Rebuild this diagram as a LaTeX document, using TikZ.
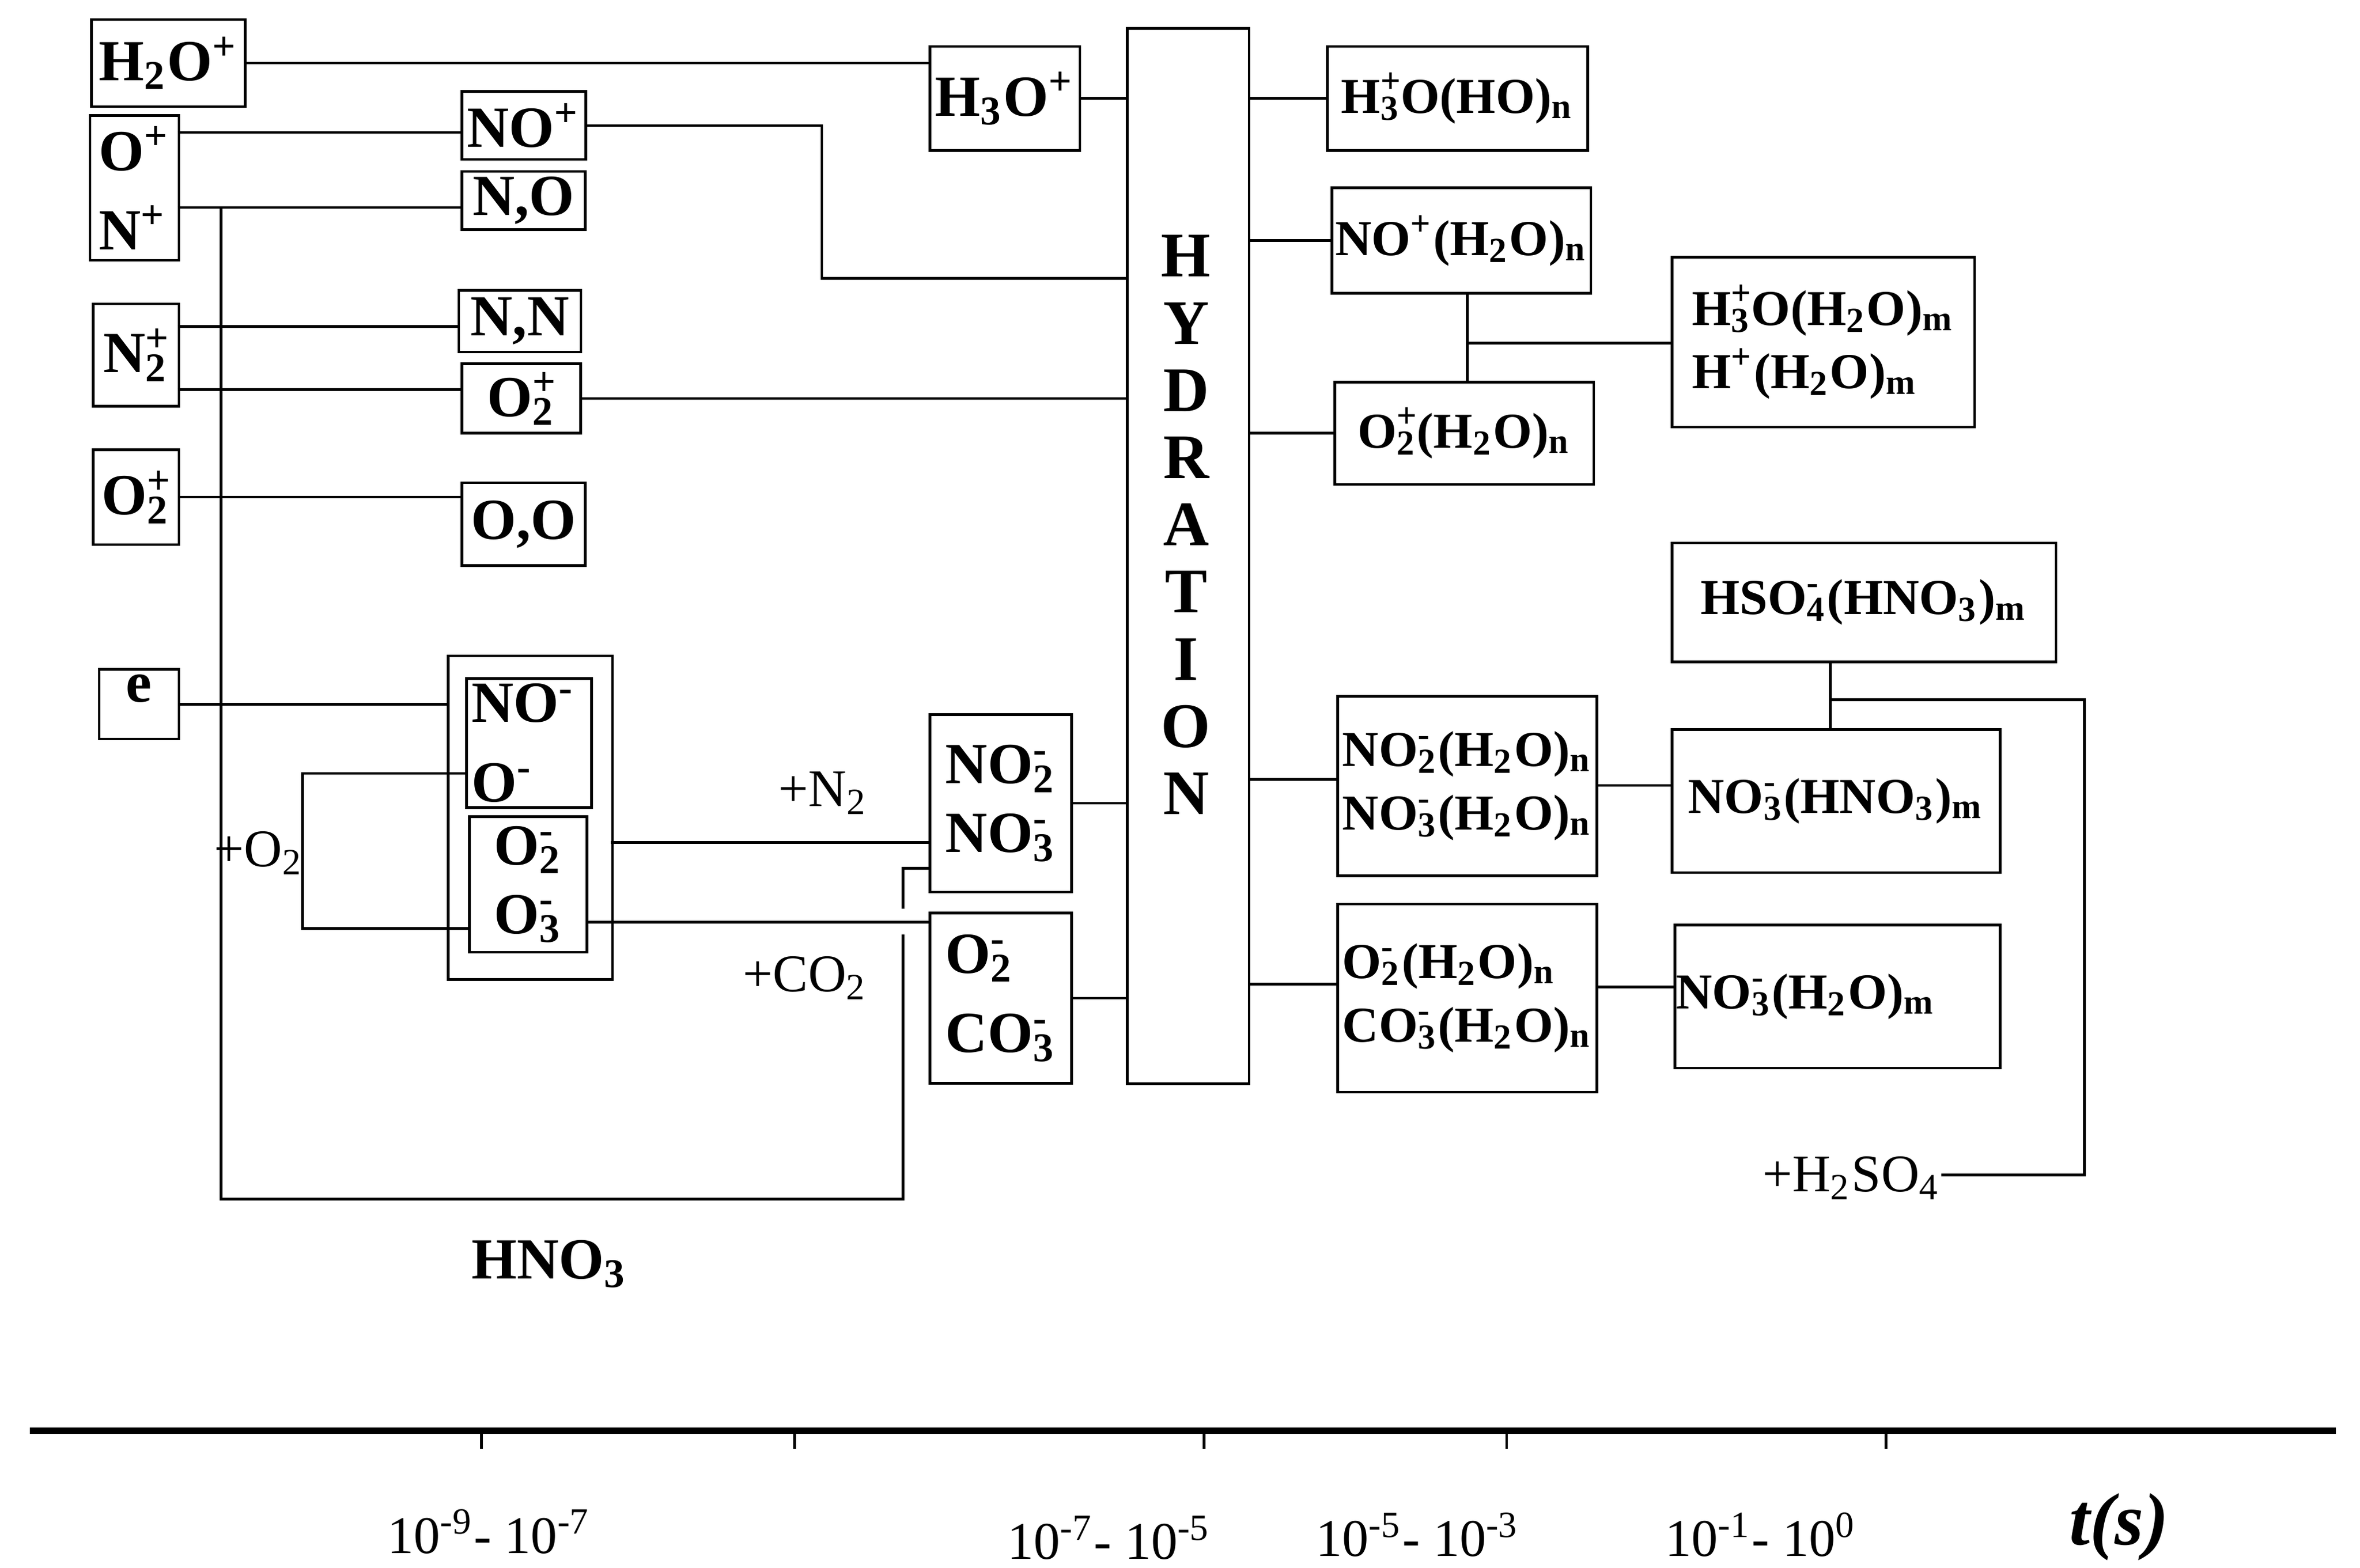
\documentclass[tikz,border=0pt]{standalone}
\usepackage{fontspec}
\setmainfont{Liberation Serif}
\newcommand{\dn}[1]{\textsubscript{#1}}
\newcommand{\up}[1]{\textsuperscript{#1}}
\newcommand{\ud}[2]{\rlap{\textsuperscript{#1}}\textsubscript{#2}}

\begin{document}
\begin{tikzpicture}[
  x=0.01cm, y=-0.01cm,
  box/.style={draw, rectangle, line width=0.5pt, anchor=north west, inner sep=1pt,
    align=left, font=\fontsize{11}{13}\selectfont\bfseries},
  wide/.style={box, inner sep=0pt, font=\fontsize{9.5}{12}\selectfont\bfseries},
  lbl/.style={inner sep=0pt, font=\fontsize{10}{12}\selectfont},
  link/.style={line width=0.5pt},
]
\useasboundingbox (0,0) rectangle (1568,1042);

% left column
\draw (60,12) node (h2o) [box, minimum width=1.02cm, minimum height=0.58cm] {H\dn{2}O\up{+}};
\draw (59,76) node (onp) [box, minimum width=0.59cm, minimum height=0.96cm] {O\up{+}\\[2pt]N\up{+}};
\draw (61,201) node (n2p) [box, minimum width=0.57cm, minimum height=0.68cm] {N\ud{+}{2}};
\draw (61,298) node (o2p) [box, minimum width=0.57cm, minimum height=0.63cm] {O\ud{+}{2}};
\draw (65,444) node (el) [box, minimum width=0.53cm, minimum height=0.42cm] {e\rule[-6pt]{0pt}{1pt}};

% second column
\draw (306,60) node (nop) [box, minimum width=0.81cm, minimum height=0.45cm] {NO\up{+}};
\draw (306,113) node (no) [box, minimum width=0.82cm, minimum height=0.37cm] {N,O};
\draw (304,192) node (nn) [box, minimum width=0.81cm, minimum height=0.41cm] {N,N};
\draw (306,241) node (o2pb) [box, minimum width=0.79cm, minimum height=0.46cm] {O\ud{+}{2}};
\draw (306,320) node (oo) [box, minimum width=0.82cm, minimum height=0.55cm] {O,O};
\draw (297,435) node (grp) [box, minimum width=1.09cm, minimum height=2.15cm] {};
\draw (309,450) node (nom) [box, minimum width=0.80cm, minimum height=0.81cm] {NO\up{-}\\[2pt]O\up{-}\hspace*{10pt}};
\draw (311,542) node (o2m) [box, minimum width=0.78cm, minimum height=0.90cm] {O\ud{-}{2}\\O\ud{-}{3}};

% third column
\draw (617,30) node (h3o) [box, minimum width=0.92cm, minimum height=0.69cm] {H\dn{3}O\up{+}};
\draw (617,474) node (no23) [box, minimum width=0.94cm, minimum height=1.18cm] {NO\ud{-}{2}\\NO\ud{-}{3}};
\draw (617,606) node (o2co3) [box, minimum width=0.94cm, minimum height=1.13cm] {O\ud{-}{2}\\[2pt]CO\ud{-}{3}};
\draw (748,18) node (hyd) [box, minimum width=0.81cm, minimum height=7.01cm] {};
\node [box, anchor=north, draw=none, align=center, font=\fontsize{12}{12.7pt}\selectfont\bfseries] at (788,152) {H\\Y\\D\\R\\A\\T\\I\\O\\N};

% hydrated ions
\draw (881,30) node (h3on) [wide, minimum width=1.73cm, minimum height=0.69cm] {H\ud{+}{3}O(HO)\dn{n}};
\draw (884,124) node (nopn) [wide, minimum width=1.72cm, minimum height=0.70cm] {NO\up{+}(H\dn{2}O)\dn{n}};
\draw (886,253) node (o2pn) [wide, minimum width=1.72cm, minimum height=0.68cm] {O\ud{+}{2}(H\dn{2}O)\dn{n}};
\draw (888,462) node (no23n) [wide, minimum width=1.72cm, minimum height=1.19cm] {NO\ud{-}{2}(H\dn{2}O)\dn{n}\\NO\ud{-}{3}(H\dn{2}O)\dn{n}};
\draw (888,600) node (o2co3n) [wide, minimum width=1.72cm, minimum height=1.25cm] {O\ud{-}{2}(H\dn{2}O)\dn{n}\\CO\ud{-}{3}(H\dn{2}O)\dn{n}};

% cluster ions
\draw (1110,170) node (h3om) [wide, minimum width=2.01cm, minimum height=1.13cm] {H\ud{+}{3}O(H\dn{2}O)\dn{m}\\H\up{+}(H\dn{2}O)\dn{m}};
\draw (1110,360) node (hso4) [wide, minimum width=2.55cm, minimum height=0.79cm] {HSO\ud{-}{4}(HNO\dn{3})\dn{m}};
\draw (1110,484) node (no3h) [wide, minimum width=2.18cm, minimum height=0.95cm] {NO\ud{-}{3}(HNO\dn{3})\dn{m}};
\draw (1112,614) node (no3w) [wide, minimum width=2.16cm, minimum height=0.95cm] {NO\ud{-}{3}(H\dn{2}O)\dn{m}\hspace*{12pt}};

% free labels
\node (lo2) [lbl] at (172,567) {+O\dn{2}};
\node (ln2) [lbl] at (547,527) {+N\dn{2}};
\node (lco2) [lbl] at (535,650) {+CO\dn{2}};
\node (lh2so4) [lbl, anchor=east] at (1290,783) {+H\dn{2}SO\dn{4}};
\node (lhno3) [lbl, font=\fontsize{11}{13}\selectfont\bfseries] at (365,840) {HNO\dn{3}};

% connectors, left part
\draw [link] (h2o.east) -- (h2o.east -| h3o.west);
\draw [link] (h3o.east) -- (h3o.east -| hyd.west);
\draw [link] (118,88) -- (306,88);
\draw [link] (nop.east) -- (nop.east -| 546,0) -- (546,185) -- (hyd.west |- 0,185);
\draw [link] (118,138) -- (no.west |- 0,138);
\draw [link] (118,217) -- (nn.west |- 0,217);
\draw [link] (118,259) -- (o2pb.west |- 0,259);
\draw [link] (o2pb.east) -- (o2pb.east -| hyd.west);
\draw [link] (o2p.east) -- (o2p.east -| oo.west);
\draw [link] (el.east) -- (el.east -| grp.west);
\draw [link] (309,514) -- (201,514) -- (201,617) -- (311,617);
\draw [link] (406,560) -- (no23.west |- 0,560);
\draw [link] (389,613) -- (o2co3.west |- 0,613);
\draw [link] (147,138) -- (147,797) -- (600,797) -- (600,621);
\draw [link] (600,604) -- (600,577) -- (no23.west |- 0,577);
\draw [link] (no23.east) -- (no23.east -| hyd.west);
\draw [link] (o2co3.east) -- (o2co3.east -| hyd.west);

% connectors, right part
\draw [link] (hyd.east |- h3on.west) -- (h3on.west);
\draw [link] (hyd.east |- nopn.west) -- (nopn.west);
\draw [link] (hyd.east |- o2pn.west) -- (o2pn.west);
\draw [link] (hyd.east |- 0,518) -- (no23n.west |- 0,518);
\draw [link] (hyd.east |- 0,654) -- (o2co3n.west |- 0,654);
\draw [link] (nopn.south -| 975,0) -- (o2pn.north -| 975,0);
\draw [link] (975,228) -- (h3om.west |- 0,228);
\draw [link] (no23n.east |- 0,522) -- (no3h.west |- 0,522);
\draw [link] (o2co3n.east |- 0,656) -- (no3w.west |- 0,656);
\draw [link] (hso4.south -| 1216,0) -- (no3h.north -| 1216,0);
\draw [link] (1216,465) -- (1385,465) -- (1385,781) -- (lh2so4.east |- 0,781);

% time axis
\draw [line width=1.2pt] (20,951) -- (1552,951);
\foreach \t in {320,528,800,1001,1253}
  \draw [link] (\t,951) -- (\t,963);
\node [lbl] at (325,1018) {10\up{-9}- 10\up{-7}};
\node [lbl] at (737,1022) {10\up{-7}- 10\up{-5}};
\node [lbl] at (942,1020) {10\up{-5}- 10\up{-3}};
\node [lbl] at (1170,1020) {10\up{-1}- 10\up{0}};
\node [lbl, font=\fontsize{14}{16}\selectfont\bfseries\itshape] at (1408,1015) {t(s)};
\end{tikzpicture}
\end{document}
